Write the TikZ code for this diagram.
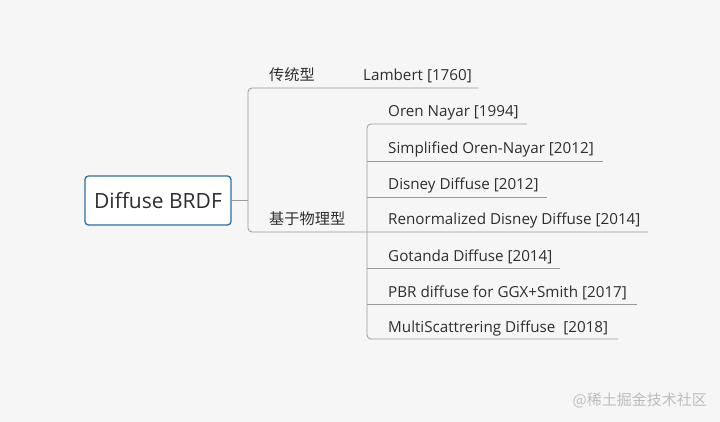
\documentclass[tikz,border=0pt]{standalone}
\usepackage{fontspec}
\setmainfont{Open Sans}
\newfontfamily\cjk{Noto Sans CJK SC}
\definecolor{bg}{HTML}{F6F6F6}
\definecolor{txt}{HTML}{2E2E2E}
\definecolor{line}{HTML}{9A9A9A}
\definecolor{rootblue}{HTML}{2E6DA6}
\definecolor{mark}{HTML}{BDBDBD}

\begin{document}
\begin{tikzpicture}[
    x                 = 1pt,
    y                 = -1pt,
    every node/.style = {font=\fontsize{15.2}{17}\selectfont, text=txt, inner sep=0pt},
    branch/.style     = {draw=line, line width=0.8pt},
    root/.style       = {draw=rootblue, line width=1.3pt, fill=white, rounded corners=3.5pt,
                         minimum width=146pt, minimum height=49pt,
                         font=\fontsize{21}{24}\selectfont}
  ]
\fill[bg] (0,0) rectangle (720,422);
\node[root] (root) at (158,200.5) {Diffuse BRDF};
% first level
\node[anchor=base west] (trad)    at (269,81)  {\cjk 传统型};
\node[anchor=base west] (lambert) at (363,81)  {Lambert [1760]};
\node[anchor=base west] (phys)    at (269,225) {\cjk 基于物理型};
\coordinate (lambert-end) at (478,88);
% second level
\foreach \name/\txt/\y/\len in {
    oren/Oren Nayar [1994]/124/527,
    simp/Simplified Oren-Nayar [2012]/161/603,
    disney/Disney Diffuse [2012]/197/547,
    renorm/Renormalized Disney Diffuse [2014]/232/648,
    gotanda/Gotanda Diffuse [2014]/268/560,
    pbr/PBR diffuse for GGX+Smith [2017]/304/637,
    multi/MultiScattrering Diffuse\ \ [2018]/339/618} {
  \node[anchor=base west] (\name) at (388,\y-7) {\txt};
  \coordinate (\name-end) at (\len,\y);
}
\coordinate (fork1) at (248,200.5);
\coordinate (fork2) at (367,232);
\draw[branch] (root.east) -- (fork1);
\draw[branch, rounded corners=4pt] (lambert-end) -- (fork1 |- lambert-end)
  -- (fork1 |- renorm-end) -- (renorm-end);
\draw[branch, rounded corners=4pt] (oren-end) -- (fork2 |- oren-end)
  -- (fork2 |- multi-end) -- (multi-end);
\foreach \name in {simp,disney,gotanda,pbr}
  \draw[branch] (fork2 |- \name-end) -- (\name-end);
% watermark
\node[anchor=base east, text=mark, font=\cjk\fontsize{15}{17}\selectfont] (credit)
  at (707,405) {@稀土掘金技术社区};
\end{tikzpicture}
\end{document}
